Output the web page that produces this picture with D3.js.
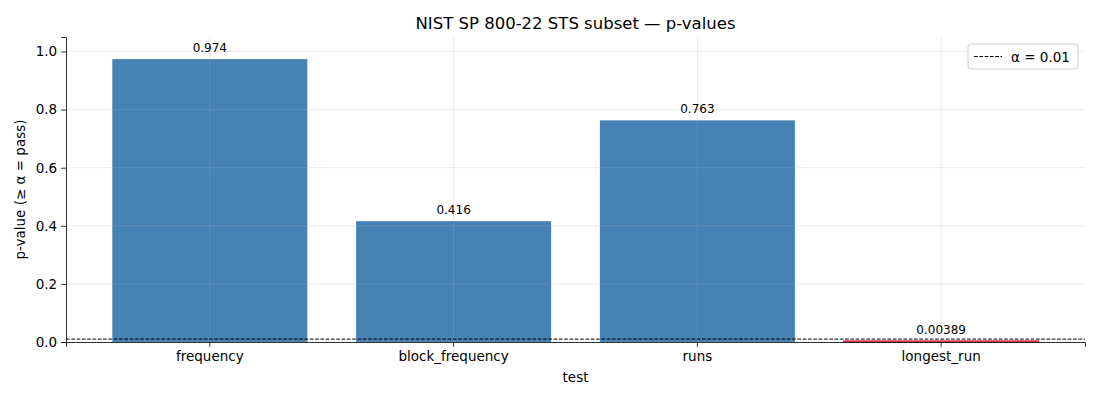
<!DOCTYPE html>
<html>
<head>
<meta charset="utf-8">
<script src="https://cdn.jsdelivr.net/npm/d3@7"></script>
<style>
    body { margin: 0; background: #fff; }
    text { font-family: "DejaVu Sans", sans-serif; fill: #000; }
</style>
</head>
<body>
<div id="chart"></div>
<script>
// p-values of the STS subset
var tests = ['frequency', 'block_frequency', 'runs', 'longest_run'];
var p_values = [0.974, 0.416, 0.763, 0.00389];
var p_labels = ['0.974', '0.416', '0.763', '0.00389'];
var y_ticks = [0.0, 0.2, 0.4, 0.6, 0.8, 1.0];
var alpha = 0.01;

var svg_size = {'width': 1100, 'height': 400};
var plot = {'left': 66, 'right': 1085, 'top': 37, 'bottom': 342};

var svg = d3.select('#chart')
    .append('svg')
    .attr('width', svg_size.width)
    .attr('height', svg_size.height);

var x_scale = d3.scaleBand()
    .domain(tests)
    .range([plot.left, plot.right])
    .paddingInner(0.2)
    .paddingOuter(0.19);

var y_scale = d3.scaleLinear()
    .domain([0, 1.05])
    .range([plot.bottom, plot.top]);

function bar_color(i){
    return p_values[i] >= alpha ? '#4682b4' : '#dc143c';
}

// bars
svg.append('g').selectAll('rect')
    .data(tests)
    .enter()
    .append('rect')
    .attr('x', function(d){ return x_scale(d); })
    .attr('width', x_scale.bandwidth())
    .attr('y', function(d, i){ return y_scale(p_values[i]); })
    .attr('height', function(d, i){ return plot.bottom - y_scale(p_values[i]); })
    .style('fill', function(d, i){ return bar_color(i); })
    .style('stroke', function(d, i){ return p_values[i] >= alpha ? 'none' : bar_color(i); })
    .style('stroke-width', 0.8);

// grid, drawn over the bars
var grid = svg.append('g').style('stroke', '#b0b0b0').style('stroke-opacity', 0.3).style('stroke-width', 0.8);
grid.selectAll('.gy')
    .data(y_ticks)
    .enter()
    .append('line')
    .attr('x1', plot.left).attr('x2', plot.right)
    .attr('y1', function(d){ return y_scale(d); })
    .attr('y2', function(d){ return y_scale(d); });
grid.selectAll('.gx')
    .data(tests)
    .enter()
    .append('line')
    .attr('x1', function(d){ return x_scale(d) + x_scale.bandwidth()/2; })
    .attr('x2', function(d){ return x_scale(d) + x_scale.bandwidth()/2; })
    .attr('y1', plot.top).attr('y2', plot.bottom);

// alpha threshold
svg.append('line')
    .attr('x1', plot.left).attr('x2', plot.right)
    .attr('y1', y_scale(alpha)).attr('y2', y_scale(alpha))
    .style('stroke', '#000')
    .style('stroke-width', 1)
    .style('stroke-dasharray', '3.7,1.6');

// value labels
svg.append('g').selectAll('text')
    .data(tests)
    .enter()
    .append('text')
    .attr('x', function(d){ return x_scale(d) + x_scale.bandwidth()/2; })
    .attr('y', function(d, i){ return y_scale(p_values[i]) - 7; })
    .attr('text-anchor', 'middle')
    .style('font-size', '12px')
    .text(function(d, i){ return p_labels[i]; });

// axes
var x_axis = d3.axisBottom(x_scale).tickSizeOuter(0).tickSize(4.9).tickPadding(5);
var x_axis_group = svg.append('g')
    .attr('transform', 'translate(0,' + plot.bottom + ')')
    .call(x_axis);

var y_axis = d3.axisLeft(y_scale)
    .tickValues(y_ticks)
    .tickFormat(d3.format('.1f'))
    .tickSizeOuter(0).tickSize(4.9).tickPadding(4);
var y_axis_group = svg.append('g')
    .attr('transform', 'translate(' + plot.left + ',0)')
    .call(y_axis);

[x_axis_group, y_axis_group].forEach(function(g){
    g.selectAll('text').style('font-size', '13.5px').style('font-family', '"DejaVu Sans", sans-serif').attr('fill', '#000');
    g.selectAll('line').attr('stroke', '#000').attr('stroke-width', 0.8);
    g.select('.domain').attr('stroke', '#000').attr('stroke-width', 0.8);
});

// titles
svg.append('text')
    .attr('x', (plot.left + plot.right)/2)
    .attr('y', 29)
    .attr('text-anchor', 'middle')
    .style('font-size', '16.5px')
    .text('NIST SP 800-22 STS subset — p-values');

svg.append('text')
    .attr('x', (plot.left + plot.right)/2)
    .attr('y', 382)
    .attr('text-anchor', 'middle')
    .style('font-size', '13.5px')
    .text('test');

svg.append('text')
    .attr('transform', 'translate(25,' + (plot.top + plot.bottom)/2 + ') rotate(-90)')
    .attr('text-anchor', 'middle')
    .style('font-size', '13.5px')
    .text('p-value (≥ α = pass)');

// legend
var legend = svg.append('g').attr('transform', 'translate(968,44)');
legend.append('rect')
    .attr('width', 110).attr('height', 25)
    .attr('rx', 3)
    .style('fill', '#fff').style('fill-opacity', 0.8)
    .style('stroke', '#d0d0d0').style('stroke-width', 1);
legend.append('line')
    .attr('x1', 6).attr('x2', 34).attr('y1', 12.5).attr('y2', 12.5)
    .style('stroke', '#000').style('stroke-width', 1)
    .style('stroke-dasharray', '3.7,1.6');
legend.append('text')
    .attr('x', 43).attr('y', 12.5)
    .attr('dominant-baseline', 'central')
    .style('font-size', '13.5px')
    .text('α = 0.01');
</script>
</body>
</html>
